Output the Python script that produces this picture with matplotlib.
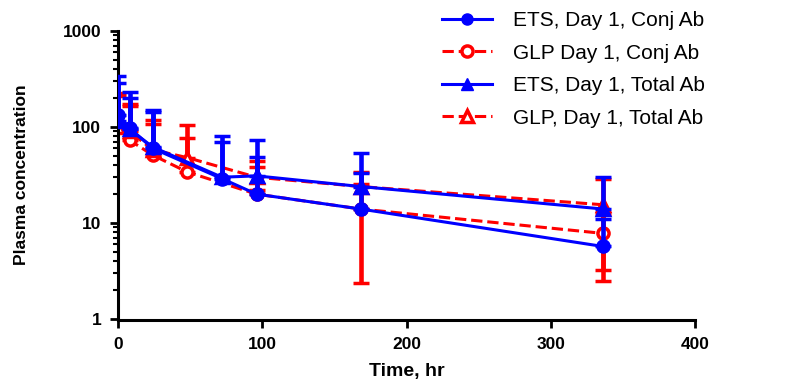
import matplotlib.pyplot as plt
from matplotlib.lines import Line2D

plt.rcParams['font.family'] = ['Liberation Sans', 'DejaVu Sans']

# sampling times (hr)
ets_time = [0, 8, 24, 72, 96, 168, 336]
glp_time = [0, 8, 24, 48, 96, 168, 336]

# means
ets_conj = [135, 97, 60, 29, 20, 14, 5.7]
ets_total = [115, 95, 62, 30, 31, 24, 14]
glp_conj = [100, 73, 51, 34, 20, 14, 7.8]
glp_total = [100, 90, 58, 48, 30, 24, 15.5]

# error bars (lower, upper)
ets_conj_lo = [0, 0, 0, 0, 0, 0, 0]
ets_conj_hi = [155, 133, 90, 40, 29, 19, 5.3]
ets_total_lo = [0, 0, 0, 0, 0, 0, 0]
ets_total_hi = [225, 105, 80, 50, 43, 30, 16]
glp_conj_lo = [0, 0, 0, 0, 0, 11.6, 4.55]
glp_conj_hi = [125, 92, 66, 42, 24, 11.6, 4.55]
glp_total_lo = [0, 0, 0, 0, 8, 10, 13]
glp_total_hi = [110, 85, 50, 58, 8, 10, 13]

labels = ['ETS, Day 1, Conj Ab', 'GLP Day 1, Conj Ab',
          'ETS, Day 1, Total Ab', 'GLP, Day 1, Total Ab']

BLUE = '#0000FF'
RED = '#FF0000'

fig = plt.figure(figsize=(7.92, 3.83), dpi=100)
ax = fig.add_axes([0.149, 0.167, 0.729, 0.752])

eb = dict(elinewidth=3.3, capsize=5.5, capthick=3.3, lw=2.2, ms=8, mew=2.5)

ax.errorbar(glp_time, glp_conj, yerr=[glp_conj_lo, glp_conj_hi], color=RED,
            ls='--', marker='o', mfc='white', mec=RED, zorder=2, **eb)
ax.errorbar(glp_time, glp_total, yerr=[glp_total_lo, glp_total_hi], color=RED,
            ls='--', marker='^', mfc='white', mec=RED, zorder=2, **eb)
ax.errorbar(ets_time, ets_conj, yerr=[ets_conj_lo, ets_conj_hi], color=BLUE,
            ls='-', marker='o', mfc=BLUE, mec=BLUE, zorder=3, **eb)
ax.errorbar(ets_time, ets_total, yerr=[ets_total_lo, ets_total_hi], color=BLUE,
            ls='-', marker='^', mfc=BLUE, mec=BLUE, zorder=3, **eb)

ax.set_yscale('log')
ax.set_ylim(1, 1000)
ax.set_xlim(0, 400)
ax.set_xticks([0, 100, 200, 300, 400])
ax.set_yticks([1, 10, 100, 1000])
ax.set_yticklabels(['1', '10', '100', '1000'])

for s in ['top', 'right']:
    ax.spines[s].set_visible(False)
for s in ['left', 'bottom']:
    ax.spines[s].set_linewidth(2.2)
ax.spines['bottom'].set_position(('outward', 1))

ax.tick_params(axis='both', which='major', length=6, width=2, labelsize=12.5, pad=6)
ax.tick_params(axis='y', which='minor', length=3.5, width=1.5)
for t in ax.get_xticklabels() + ax.get_yticklabels():
    t.set_fontweight('bold')

ax.set_xlabel('Time, hr', fontsize=14, fontweight='bold', labelpad=8)
ax.set_ylabel('Plasma concentration', fontsize=12.5, fontweight='bold', labelpad=24)

# legend shows only line + marker
handles = [
    Line2D([], [], color=BLUE, ls='-', lw=2.2, marker='o', ms=8, mfc=BLUE, mec=BLUE),
    Line2D([], [], color=RED, ls='--', lw=2.2, marker='o', ms=8, mfc='white', mec=RED, mew=2.5),
    Line2D([], [], color=BLUE, ls='-', lw=2.2, marker='^', ms=8, mfc=BLUE, mec=BLUE),
    Line2D([], [], color=RED, ls='--', lw=2.2, marker='^', ms=8, mfc='white', mec=RED, mew=2.5),
]
fig.legend(handles, labels, loc='upper left', bbox_to_anchor=(0.535, 1.02),
           frameon=False, fontsize=15, handlelength=2.4, handletextpad=1.0,
           labelspacing=0.65)

fig.savefig('out.png', dpi=100)
